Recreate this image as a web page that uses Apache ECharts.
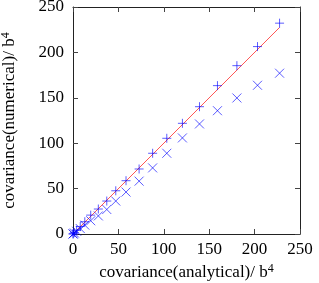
<!DOCTYPE html>
<html>
<head>
<meta charset="utf-8">
<script src="https://cdn.jsdelivr.net/npm/echarts@6/dist/echarts.min.js"></script>
<style>html,body{margin:0;padding:0;background:#fff}#c{width:319px;height:283px}</style>
</head>
<body>
<div id="c"></div>
<script>
var analytical = [227.5, 203.2, 180.5, 159.1, 139.3, 120.5, 103.3, 87.7, 72.8, 58.4, 47.1, 37.2, 27.9, 19.5, 13, 8, 4, 1.5, 0.3, 0];
var numericalPlus = [232.2, 206.4, 185.4, 163.4, 140.2, 121.9, 105.4, 88.9, 71.6, 58.7, 47.6, 36.3, 27.5, 20.8, 13.5, 8.2, 4.1, 1.5, 0.3, 0];
var numericalCross = [177.1, 163.8, 149.8, 135.8, 121.2, 105.8, 88.9, 72.8, 58.2, 46.2, 36.3, 27.0, 19.9, 14.6, 9.8, 6, 3, 1.1, 0.2, 0];
var lineX = [0, 227.5];
var ticks = [0, 50, 100, 150, 200, 250];

var font = 'Liberation Serif, DejaVu Serif, serif';
var blue = 'rgba(0,0,255,0.8)';
function pairs(xs, ys) { return xs.map(function (x, i) { return [x, ys[i]]; }); }

var axisCommon = {
  type: 'value', min: ticks[0], max: ticks[ticks.length - 1], interval: 50,
  axisLine: { show: true, onZero: false, lineStyle: { color: '#222', width: 1 } },
  axisTick: { show: true, inside: true, length: 5, lineStyle: { color: '#444' } },
  splitLine: { show: false }
};
var chart = echarts.init(document.getElementById('c'));
chart.setOption({
  animation: false,
  backgroundColor: '#fff',
  grid: { left: 73, right: 19, top: 7, bottom: 49, containLabel: false, outerBoundsMode: 'none' },
  xAxis: [
    Object.assign({}, axisCommon, {
      position: 'bottom',
      axisLabel: { fontFamily: font, fontSize: 17, color: '#000', margin: 7 },
      name: 'covariance(analytical)/ b{s|4}',
      nameLocation: 'middle', nameGap: 27,
      nameTextStyle: { fontFamily: font, fontSize: 17, color: '#000',
        rich: { s: { fontFamily: font, fontSize: 12, color: '#000', verticalAlign: 'top', padding: [0, 0, 8, 0] } } }
    }),
    Object.assign({}, axisCommon, { position: 'top', axisLabel: { show: false } })
  ],
  yAxis: [
    Object.assign({}, axisCommon, {
      position: 'left',
      axisLabel: { fontFamily: font, fontSize: 17, color: '#000', margin: 9 },
      name: 'covariance(numerical)/ b{s|4}',
      nameLocation: 'middle', nameGap: 53,
      nameTextStyle: { fontFamily: font, fontSize: 17, color: '#000',
        rich: { s: { fontFamily: font, fontSize: 12, color: '#000', verticalAlign: 'top', padding: [0, 0, 8, 0] } } }
    }),
    Object.assign({}, axisCommon, { position: 'right', axisLabel: { show: false } })
  ],
  series: [
    {
      type: 'line', data: lineX.map(function (v) { return [v, v]; }),
      symbol: 'none', lineStyle: { color: '#ff5555', width: 1 }, z: 2
    },
    {
      type: 'scatter', data: pairs(analytical, numericalPlus),
      symbol: 'path://M0 5 L10 5 M5 0 L5 10', symbolSize: 9,
      itemStyle: { color: 'none', borderColor: blue, borderWidth: 1 }, z: 3
    },
    {
      type: 'scatter', data: pairs(analytical, numericalCross),
      symbol: 'path://M0 0 L10 10 M10 0 L0 10', symbolSize: 9,
      itemStyle: { color: 'none', borderColor: blue, borderWidth: 1 }, z: 3
    }
  ]
});
</script>
</body>
</html>
